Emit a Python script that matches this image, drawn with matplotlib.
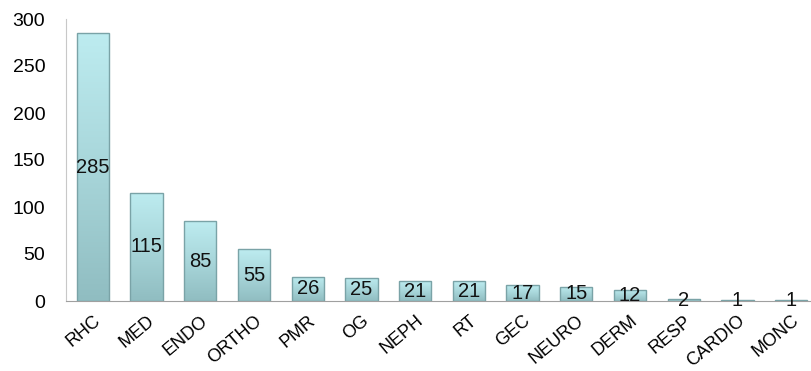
import matplotlib
matplotlib.use("Agg")
import matplotlib.pyplot as plt
import numpy as np
from matplotlib.colors import LinearSegmentedColormap

categories = ["RHC", "MED", "ENDO", "ORTHO", "PMR", "OG", "NEPH", "RT", "GEC",
              "NEURO", "DERM", "RESP", "CARDIO", "MONC"]
values = [285, 115, 85, 55, 26, 25, 21, 21, 17, 15, 12, 2, 1, 1]
yticks = [0, 50, 100, 150, 200, 250, 300]

plt.rcParams['font.family'] = ['Liberation Sans', 'DejaVu Sans']

fig = plt.figure(figsize=(8.11, 3.71), dpi=100)
ax = fig.add_axes([66/811, 1 - 301/371, (810 - 66)/811, (301 - 19)/371])

x = np.arange(len(categories))
width = 0.6
bars = ax.bar(x, values, width=width, color='none', edgecolor='#7aa3a7', linewidth=1.0, zorder=3)

cmap = LinearSegmentedColormap.from_list('g', ['#90bdc1', '#a8d6da', '#bdecf0'])
grad = np.linspace(0, 1, 256).reshape(-1, 1)
for b in bars:
    x0, y0 = b.get_x(), b.get_y()
    w, h = b.get_width(), b.get_height()
    im = ax.imshow(grad, cmap=cmap, origin='lower', aspect='auto',
                   extent=[x0, x0 + w, y0, y0 + h], zorder=2)
    im.set_clip_path(b)

for xi, v in zip(x, values):
    ax.text(xi, v / 2, str(v), ha='center', va='center', fontsize=14.5, color='#111111', zorder=4)

ax.set_xlim(-0.5, 13.35)
ax.set_ylim(0, 300)
ax.set_yticks(yticks)
ax.set_yticklabels([str(t) for t in yticks], fontsize=14)
ax.set_xticks(x)
ax.set_xticklabels(categories, rotation=40, ha='right', rotation_mode='anchor', fontsize=13)
ax.tick_params(axis='both', length=0)
ax.tick_params(axis='x', pad=8)
ax.tick_params(axis='y', pad=15)

for s in ['top', 'right']:
    ax.spines[s].set_visible(False)
ax.spines['left'].set_color('#c8c8c8')
ax.spines['bottom'].set_color('#a0a0a0')

fig.savefig("out.png", dpi=100)
